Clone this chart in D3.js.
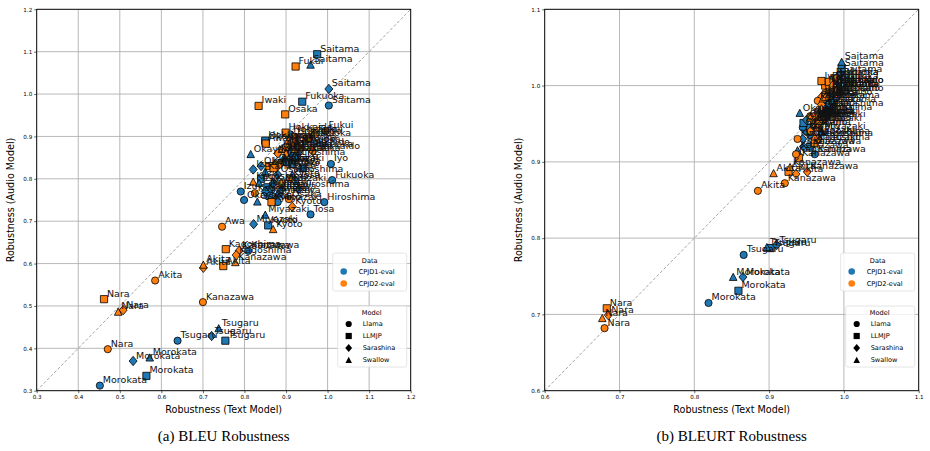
<!DOCTYPE html>
<html lang="en">
<head>
<meta charset="utf-8">
<title>BLEU / BLEURT Robustness</title>
<script src="https://d3js.org/d3.v7.min.js"></script>
<style>
  body { margin: 0; background: #fff; }
  text { font-family: "DejaVu Sans", sans-serif; }
  .caption { font-family: "Liberation Serif", "Times New Roman", serif; }
</style>
</head>
<body>
<div id="chart"></div>
<script>
// ---- data ----
const models = ["Llama", "LLMJP", "Sarashina", "Swallow"];
const datasets = ["CPJD1-eval", "CPJD2-eval"];
const colors = ["#1f77b4", "#ff7f0e"];

// [dialect, model index, text robustness, audio robustness]
const bleuCPJD1 = [
  ["Saitama", 0, 1.003, 0.973], ["Saitama", 1, 0.975, 1.094], ["Saitama", 2, 1.003, 1.012], ["Saitama", 3, 0.959, 1.069],
  ["Fukuoka", 0, 1.011, 0.797], ["Fukuoka", 1, 0.939, 0.982], ["Fukuoka", 2, 0.930, 0.860], ["Fukuoka", 3, 0.910, 0.870],
  ["Hiroshima", 0, 0.992, 0.745], ["Hiroshima", 1, 0.920, 0.850], ["Hiroshima", 2, 0.930, 0.775], ["Hiroshima", 3, 0.915, 0.810],
  ["Iyo", 0, 1.008, 0.835], ["Iyo", 1, 0.940, 0.825], ["Iyo", 2, 0.895, 0.845], ["Iyo", 3, 0.905, 0.880],
  ["Tosa", 0, 0.959, 0.716], ["Tosa", 1, 0.915, 0.835], ["Tosa", 2, 0.890, 0.775], ["Tosa", 3, 0.925, 0.795],
  ["Tsugaru", 0, 0.639, 0.418], ["Tsugaru", 1, 0.754, 0.418], ["Tsugaru", 2, 0.721, 0.429], ["Tsugaru", 3, 0.738, 0.447],
  ["Morokata", 0, 0.452, 0.312], ["Morokata", 1, 0.564, 0.335], ["Morokata", 2, 0.532, 0.370], ["Morokata", 3, 0.572, 0.378],
  ["Miyazaki", 0, 0.880, 0.745], ["Miyazaki", 1, 0.855, 0.780], ["Miyazaki", 2, 0.822, 0.693], ["Miyazaki", 3, 0.850, 0.715],
  ["Kyoto", 0, 0.860, 0.775], ["Kyoto", 1, 0.857, 0.690], ["Kyoto", 2, 0.870, 0.790], ["Kyoto", 3, 0.880, 0.765],
  ["Izu", 0, 0.791, 0.770], ["Izu", 1, 0.840, 0.800], ["Izu", 2, 0.821, 0.822], ["Izu", 3, 0.835, 0.790],
  ["Okayama", 0, 0.799, 0.750], ["Okayama", 1, 0.851, 0.888], ["Okayama", 2, 0.840, 0.830], ["Okayama", 3, 0.815, 0.858],
  ["Osaka", 0, 0.910, 0.860], ["Osaka", 1, 0.900, 0.840], ["Osaka", 2, 0.880, 0.810], ["Osaka", 3, 0.831, 0.746],
  ["Kanazawa", 0, 0.809, 0.630], ["Kanazawa", 1, 0.860, 0.760], ["Kanazawa", 2, 0.850, 0.770], ["Kanazawa", 3, 0.850, 0.817],
  ["Hokkaido", 0, 0.910, 0.905], ["Hokkaido", 1, 0.850, 0.890], ["Hokkaido", 2, 0.905, 0.880], ["Hokkaido", 3, 0.885, 0.870]
];
const bleuCPJD2 = [
  ["Fukui", 0, 0.995, 0.913], ["Fukui", 1, 0.923, 1.065], ["Fukui", 2, 0.970, 0.905], ["Fukui", 3, 0.950, 0.895],
  ["Iwaki", 0, 0.900, 0.875], ["Iwaki", 1, 0.834, 0.972], ["Iwaki", 2, 0.880, 0.860], ["Iwaki", 3, 0.905, 0.890],
  ["Osaka", 0, 0.907, 0.752], ["Osaka", 1, 0.898, 0.952], ["Osaka", 2, 0.875, 0.835], ["Osaka", 3, 0.920, 0.870],
  ["Nara", 0, 0.471, 0.398], ["Nara", 1, 0.462, 0.516], ["Nara", 2, 0.508, 0.490], ["Nara", 3, 0.496, 0.486],
  ["Akita", 0, 0.585, 0.560], ["Akita", 1, 0.749, 0.594], ["Akita", 2, 0.701, 0.590], ["Akita", 3, 0.701, 0.597],
  ["Awa", 0, 0.746, 0.687], ["Awa", 1, 0.851, 0.883], ["Awa", 2, 0.880, 0.830], ["Awa", 3, 0.890, 0.870],
  ["Kanazawa", 0, 0.700, 0.509], ["Kanazawa", 1, 0.860, 0.830], ["Kanazawa", 2, 0.787, 0.630], ["Kanazawa", 3, 0.778, 0.603],
  ["Kagoshima", 0, 0.825, 0.766], ["Kagoshima", 1, 0.755, 0.634], ["Kagoshima", 2, 0.780, 0.620], ["Kagoshima", 3, 0.821, 0.793],
  ["Kyoto", 0, 0.910, 0.800], ["Kyoto", 1, 0.865, 0.745], ["Kyoto", 2, 0.915, 0.734], ["Kyoto", 3, 0.869, 0.681],
  ["Hokkaido", 0, 0.920, 0.900], ["Hokkaido", 1, 0.899, 0.909], ["Hokkaido", 2, 0.965, 0.865], ["Hokkaido", 3, 0.940, 0.875],
  ["Fukuoka", 0, 0.955, 0.895], ["Fukuoka", 1, 0.920, 0.885], ["Fukuoka", 2, 0.960, 0.870], ["Fukuoka", 3, 0.930, 0.880],
  ["Miyazaki", 0, 0.890, 0.790], ["Miyazaki", 1, 0.870, 0.825], ["Miyazaki", 2, 0.885, 0.835], ["Miyazaki", 3, 0.900, 0.860]
];
const bleurtCPJD1 = [
  ["Saitama", 0, 0.995, 1.015], ["Saitama", 1, 0.997, 1.023], ["Saitama", 2, 0.990, 1.010], ["Saitama", 3, 0.997, 1.031],
  ["Fukuoka", 0, 0.990, 0.995], ["Fukuoka", 1, 0.985, 1.000], ["Fukuoka", 2, 0.980, 0.990], ["Fukuoka", 3, 0.990, 1.005],
  ["Hiroshima", 0, 0.985, 0.970], ["Hiroshima", 1, 0.975, 0.975], ["Hiroshima", 2, 0.970, 0.965], ["Hiroshima", 3, 0.980, 0.980],
  ["Iyo", 0, 0.990, 0.985], ["Iyo", 1, 0.980, 0.990], ["Iyo", 2, 0.975, 0.980], ["Iyo", 3, 0.985, 0.990],
  ["Tosa", 0, 0.980, 0.965], ["Tosa", 1, 0.970, 0.960], ["Tosa", 2, 0.965, 0.955], ["Tosa", 3, 0.975, 0.970],
  ["Tsugaru", 0, 0.866, 0.778], ["Tsugaru", 1, 0.902, 0.787], ["Tsugaru", 2, 0.910, 0.791], ["Tsugaru", 3, 0.897, 0.788],
  ["Morokata", 0, 0.819, 0.715], ["Morokata", 1, 0.859, 0.731], ["Morokata", 2, 0.865, 0.749], ["Morokata", 3, 0.852, 0.749],
  ["Miyazaki", 0, 0.955, 0.935], ["Miyazaki", 1, 0.965, 0.930], ["Miyazaki", 2, 0.960, 0.925], ["Miyazaki", 3, 0.970, 0.940],
  ["Kyoto", 0, 0.965, 0.955], ["Kyoto", 1, 0.975, 0.960], ["Kyoto", 2, 0.960, 0.950], ["Kyoto", 3, 0.970, 0.965],
  ["Izu", 0, 0.950, 0.940], ["Izu", 1, 0.955, 0.945], ["Izu", 2, 0.945, 0.930], ["Izu", 3, 0.960, 0.950],
  ["Okayama", 0, 0.945, 0.945], ["Okayama", 1, 0.946, 0.951], ["Okayama", 2, 0.950, 0.955], ["Okayama", 3, 0.941, 0.964],
  ["Osaka", 0, 0.975, 0.970], ["Osaka", 1, 0.980, 0.975], ["Osaka", 2, 0.970, 0.960], ["Osaka", 3, 0.985, 0.980],
  ["Kanazawa", 0, 0.961, 0.910], ["Kanazawa", 1, 0.955, 0.920], ["Kanazawa", 2, 0.946, 0.920], ["Kanazawa", 3, 0.938, 0.915],
  ["Hokkaido", 0, 0.985, 0.990], ["Hokkaido", 1, 0.990, 1.000], ["Hokkaido", 2, 0.980, 0.995], ["Hokkaido", 3, 0.990, 1.000]
];
const bleurtCPJD2 = [
  ["Fukui", 0, 0.985, 1.005], ["Fukui", 1, 0.975, 1.000], ["Fukui", 2, 0.980, 0.995], ["Fukui", 3, 0.985, 1.010],
  ["Iwaki", 0, 0.975, 0.990], ["Iwaki", 1, 0.970, 1.006], ["Iwaki", 2, 0.970, 0.985], ["Iwaki", 3, 0.980, 0.995],
  ["Osaka", 0, 0.965, 0.980], ["Osaka", 1, 0.975, 0.985], ["Osaka", 2, 0.970, 0.975], ["Osaka", 3, 0.972, 0.983],
  ["Nara", 0, 0.680, 0.682], ["Nara", 1, 0.683, 0.708], ["Nara", 2, 0.685, 0.699], ["Nara", 3, 0.677, 0.695],
  ["Akita", 0, 0.885, 0.862], ["Akita", 1, 0.926, 0.887], ["Akita", 2, 0.936, 0.884], ["Akita", 3, 0.906, 0.885],
  ["Awa", 0, 0.955, 0.960], ["Awa", 1, 0.960, 0.955], ["Awa", 2, 0.965, 0.960], ["Awa", 3, 0.970, 0.970],
  ["Kanazawa", 0, 0.921, 0.872], ["Kanazawa", 1, 0.940, 0.905], ["Kanazawa", 2, 0.951, 0.887], ["Kanazawa", 3, 0.928, 0.893],
  ["Kagoshima", 0, 0.936, 0.910], ["Kagoshima", 1, 0.961, 0.925], ["Kagoshima", 2, 0.965, 0.930], ["Kagoshima", 3, 0.961, 0.933],
  ["Kyoto", 0, 0.938, 0.930], ["Kyoto", 1, 0.965, 0.945], ["Kyoto", 2, 0.955, 0.940], ["Kyoto", 3, 0.962, 0.950],
  ["Hokkaido", 0, 0.980, 1.000], ["Hokkaido", 1, 0.985, 0.995], ["Hokkaido", 2, 0.990, 0.990], ["Hokkaido", 3, 0.975, 0.985],
  ["Fukuoka", 0, 0.990, 1.010], ["Fukuoka", 1, 0.980, 1.005], ["Fukuoka", 2, 0.985, 1.000], ["Fukuoka", 3, 0.990, 0.995],
  ["Miyazaki", 0, 0.960, 0.960], ["Miyazaki", 1, 0.970, 0.955], ["Miyazaki", 2, 0.965, 0.950], ["Miyazaki", 3, 0.955, 0.958]
];

const bleuTicks = [0.3, 0.4, 0.5, 0.6, 0.7, 0.8, 0.9, 1.0, 1.1, 1.2];
const bleurtTicks = [0.6, 0.7, 0.8, 0.9, 1.0, 1.1];

// ---- drawing ----
const svg = d3.select("#chart").append("svg")
  .attr("width", 930).attr("height", 451);

// marker shapes in matplotlib style
function markerPath(m, s) {
  if (m === 0) return d3.symbol(d3.symbolCircle, Math.PI * s * s)();
  if (m === 1) return `M${-s},${-s}H${s}V${s}H${-s}Z`;
  if (m === 2) { const d = s * 1.3; return `M0,${-d}L${d * 0.85},0L0,${d}L${-d * 0.85},0Z`; }
  const t = s * 1.05;
  return `M0,${-t}L${t},${t * 0.9}L${-t},${t * 0.9}Z`;
}

function panel(opts) {
  const x = d3.scaleLinear().domain(opts.domain).range([opts.left, opts.left + 374]);
  const y = d3.scaleLinear().domain(opts.domain).range([390.7, 9.3]);
  const g = svg.append("g");

  // grid
  g.append("g").selectAll("line.vx").data(opts.ticks).join("line")
    .attr("x1", d => x(d)).attr("x2", d => x(d)).attr("y1", 9.3).attr("y2", 390.7)
    .attr("stroke", "#b0b0b0").attr("stroke-width", 0.9);
  g.append("g").selectAll("line.hy").data(opts.ticks).join("line")
    .attr("y1", d => y(d)).attr("y2", d => y(d)).attr("x1", x.range()[0]).attr("x2", x.range()[1])
    .attr("stroke", "#b0b0b0").attr("stroke-width", 0.9);

  // diagonal
  g.append("line")
    .attr("x1", x(opts.domain[0])).attr("y1", y(opts.domain[0]))
    .attr("x2", x(opts.domain[1])).attr("y2", y(opts.domain[1]))
    .attr("stroke", "#999").attr("stroke-width", 0.9).attr("stroke-dasharray", "3,2");

  // axes
  const xAxis = d3.axisBottom(x).tickValues(opts.ticks).tickFormat(d3.format(".1f")).tickSize(2.5).tickPadding(2);
  const yAxis = d3.axisLeft(y).tickValues(opts.ticks).tickFormat(d3.format(".1f")).tickSize(2.5).tickPadding(2);
  const ax = g.append("g").attr("transform", "translate(0,390.7)").call(xAxis);
  const ay = g.append("g").attr("transform", `translate(${opts.left},0)`).call(yAxis);
  [ax, ay].forEach(a => {
    a.select(".domain").remove();
    a.selectAll("text").attr("font-size", 5.6).attr("font-family", "DejaVu Sans").attr("fill", "#000");
    a.selectAll("line").attr("stroke", "#000").attr("stroke-width", 0.6);
  });

  g.append("rect")
    .attr("x", x.range()[0]).attr("y", 9.3).attr("width", 374).attr("height", 381.4)
    .attr("fill", "none").attr("stroke", "#000").attr("stroke-width", 0.9);

  // points
  const pts = [];
  opts.series.forEach((arr, di) => arr.forEach(p => pts.push({ name: p[0], m: p[1], tx: p[2], ay: p[3], di })));

  const clip = "clip" + opts.left;
  svg.append("clipPath").attr("id", clip).append("rect")
    .attr("x", x.range()[0]).attr("y", 9.3).attr("width", 374).attr("height", 381.4);

  const pg = g.append("g");
  pg.selectAll("path").data(pts).join("path")
    .attr("d", d => markerPath(d.m, 3.6))
    .attr("transform", d => `translate(${x(d.tx)},${y(d.ay)})`)
    .attr("fill", d => colors[d.di])
    .attr("stroke", "#000").attr("stroke-width", 0.8);

  g.append("g").selectAll("text").data(pts).join("text")
    .attr("x", d => x(d.tx) + 3).attr("y", d => y(d.ay) - 2.5)
    .attr("font-size", 9.5).attr("fill", "#111")
    .text(d => d.name);

  // axis labels
  g.append("text").attr("x", opts.left + 187).attr("y", 413)
    .attr("text-anchor", "middle").attr("font-size", 9.6).text("Robustness (Text Model)");
  g.append("text").attr("transform", `translate(${opts.left - 22.5},200) rotate(-90)`)
    .attr("text-anchor", "middle").attr("font-size", 9.6).text("Robustness (Audio Model)");

  // caption
  g.append("text").attr("class", "caption").attr("x", opts.left + 187).attr("y", 441)
    .attr("text-anchor", "middle").attr("font-size", 15).text(opts.caption);

  // legends
  const lx = opts.left + 374;
  const dl = g.append("g");
  dl.append("rect").attr("x", lx - opts.dataW).attr("y", 253).attr("width", opts.dataW - 4).attr("height", 38)
    .attr("rx", 2).attr("fill", "#fff").attr("fill-opacity", 0.8).attr("stroke", "#ddd").attr("stroke-width", 0.8);
  dl.append("text").attr("x", lx - opts.dataW / 2 - 2).attr("y", 262.5).attr("text-anchor", "middle")
    .attr("font-size", 6.6).text("Data");
  datasets.forEach((name, i) => {
    const yy = 271.5 + i * 12;
    dl.append("circle").attr("cx", lx - opts.dataW + 11).attr("cy", yy).attr("r", 3.3).attr("fill", colors[i]);
    dl.append("text").attr("x", lx - opts.dataW + 26).attr("y", yy + 2.3).attr("font-size", 6.6).text(name);
  });

  const ml = g.append("g");
  ml.append("rect").attr("x", lx - 73).attr("y", 306).attr("width", 69).attr("height", 61)
    .attr("rx", 2).attr("fill", "#fff").attr("fill-opacity", 0.8).attr("stroke", "#ddd").attr("stroke-width", 0.8);
  ml.append("text").attr("x", lx - 39).attr("y", 314.5).attr("text-anchor", "middle")
    .attr("font-size", 6.6).text("Model");
  models.forEach((name, i) => {
    const yy = 324 + i * 12;
    ml.append("path").attr("d", markerPath(i, 3.1)).attr("transform", `translate(${lx - 62},${yy})`).attr("fill", "#000");
    ml.append("text").attr("x", lx - 48).attr("y", yy + 2.3).attr("font-size", 6.6).text(name);
  });
}

panel({
  left: 36.7, domain: [0.3, 1.2], ticks: bleuTicks,
  series: [bleuCPJD1, bleuCPJD2], caption: "(a) BLEU Robustness", dataW: 78
});
panel({
  left: 544.7, domain: [0.6, 1.1], ticks: bleurtTicks,
  series: [bleurtCPJD1, bleurtCPJD2], caption: "(b) BLEURT Robustness", dataW: 78
});
</script>
</body>
</html>
